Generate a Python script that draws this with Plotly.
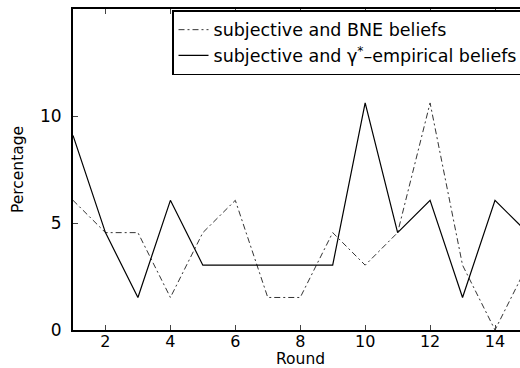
import plotly.graph_objects as go

rounds = list(range(1, 16))
bne = [6.06, 4.55, 4.55, 1.52, 4.55, 6.06, 1.52, 1.52, 4.55, 3.03, 4.55, 10.61, 3.03, 0.0, 3.03]
emp = [9.09, 4.55, 1.52, 6.06, 3.03, 3.03, 3.03, 3.03, 3.03, 10.61, 4.55, 6.06, 1.52, 6.06, 4.55]
xticks = [2, 4, 6, 8, 10, 12, 14]
yticks = [0, 5, 10, 15]

FONT = "DejaVu Sans, Liberation Sans, Arial, sans-serif"

fig = go.Figure()
fig.add_trace(go.Scatter(x=rounds, y=bne, mode="lines",
                         name="subjective and BNE beliefs",
                         line=dict(color="#333333", width=1, dash="6px,3px,2px,3px")))
fig.add_trace(go.Scatter(x=rounds, y=emp, mode="lines",
                         name="subjective and γ<sup>*</sup>–empirical beliefs",
                         line=dict(color="black", width=1.2)))

fig.update_layout(
    width=520, height=368,
    margin=dict(l=73, r=0, t=9, b=38, autoexpand=False),
    paper_bgcolor="white", plot_bgcolor="white",
    font=dict(family=FONT, size=17, color="black"),
    showlegend=True,
    legend=dict(x=0.2215, y=0.996, xanchor="left", yanchor="top",
                bgcolor="white", bordercolor="black", borderwidth=1.5,
                font=dict(size=17.5), tracegroupgap=0, itemwidth=30),
    xaxis=dict(range=[1, 14.77], tickvals=xticks, ticks="inside", ticklen=5,
               showline=True, linecolor="black", linewidth=2, mirror="ticks",
               showgrid=False, zeroline=False, tickfont=dict(size=16),
               ticklabelstandoff=-4),
    yaxis=dict(range=[0, 15], tickvals=yticks, ticks="inside", ticklen=5,
               showline=True, linecolor="black", linewidth=2, mirror=False,
               showgrid=False, zeroline=False, tickfont=dict(size=17),
               ticklabelstandoff=6,
               title=dict(text="Percentage", font=dict(size=15.5), standoff=13)),
)
fig.add_annotation(text="Round", xref="paper", yref="paper", x=0.508, y=0,
                   yshift=-29, yanchor="middle", showarrow=False, font=dict(size=15.5))

fig.write_html("out.html")
